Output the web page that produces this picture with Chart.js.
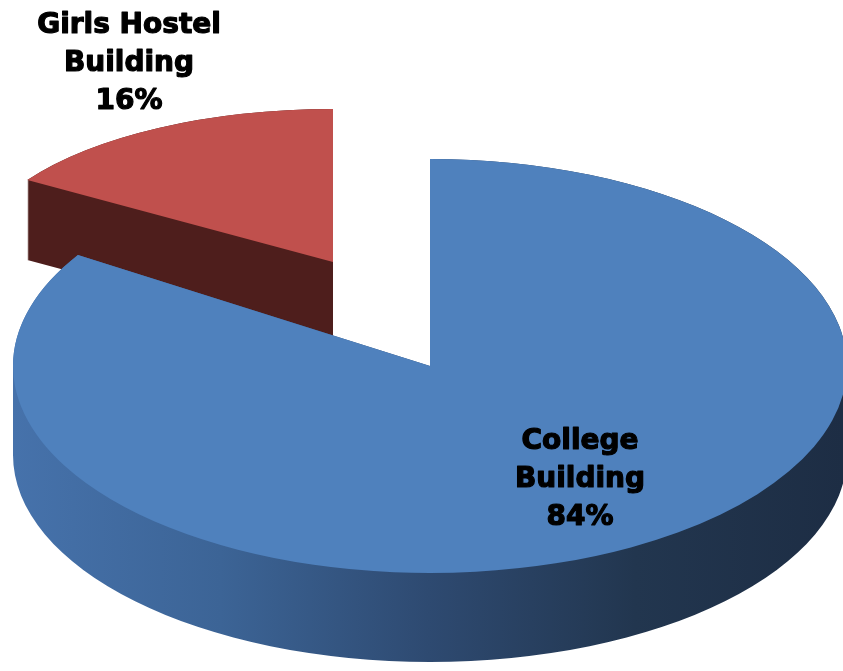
<!DOCTYPE html>
<html>
<head>
<meta charset="utf-8">
<script src="https://cdn.jsdelivr.net/npm/chart.js@4.4.0/dist/chart.umd.min.js"></script>
<style>
  html, body { margin: 0; padding: 0; background: #fff; }
  canvas { display: block; }
</style>
</head>
<body>
<canvas id="myChart" width="843" height="671"></canvas>
<script>
// ### DATA ###
const categories = ['College Building', 'Girls Hostel Building'];
const shares = [84, 16];
const topColors = ['#4F81BD', '#C0504D'];

// tilted look: where each slice's tip lands, its ellipse radii and wall height
const sliceView = [
  { x: 430, y: 366, rx: 417, ry: 207, depth: 89 },
  { x: 333, y: 262, rx: 362, ry: 153, depth: 80 }
];
const labelSpot = [
  { x: 580, y: 442 },
  { x: 129, y: 26 }
];
const lineGap = 38;

// side wall colour (blue one is shaded left to right)
function wallFill(ctx, i) {
  if (i === 1) return '#4e1e1c';
  const g = ctx.createLinearGradient(13, 0, 843, 0);
  g.addColorStop(0, '#4672ab');
  g.addColorStop(0.25, '#3c6496');
  g.addColorStop(0.5, '#2e4a71');
  g.addColorStop(0.75, '#22364f');
  g.addColorStop(1, '#1d2d44');
  return g;
}

// draws the pie squashed into ellipses with a wall underneath
const tiltedPie = {
  id: 'tiltedPie',
  beforeDatasetsDraw(chart) {
    const ctx = chart.ctx;
    const meta = chart.getDatasetMeta(0);

    // back slice first, the big one goes over it
    [1, 0].forEach(function (i) {
      const arc = meta.data[i];
      const v = sliceView[i];
      const R = arc.outerRadius;
      const sx = v.rx / R, sy = v.ry / R;

      ctx.beginPath();
      for (let d = 0; d <= v.depth; d++) {
        ctx.save();
        ctx.translate(v.x, v.y + d);
        ctx.scale(sx, sy);
        ctx.translate(-arc.x, -arc.y);
        ctx.moveTo(arc.x, arc.y);
        ctx.arc(arc.x, arc.y, R, arc.startAngle, arc.endAngle);
        ctx.closePath();
        ctx.restore();
      }
      ctx.fillStyle = wallFill(ctx, i);
      ctx.fill();

      ctx.save();
      ctx.translate(v.x, v.y);
      ctx.scale(sx, sy);
      ctx.translate(-arc.x, -arc.y);
      arc.draw(ctx);
      ctx.restore();
    });
    return false;
  },
  // labels go on after everything else
  afterDraw(chart) {
    const ctx = chart.ctx;
    const data = chart.data.datasets[0].data;
    const total = data.reduce((a, b) => a + b, 0);

    ctx.save();
    ctx.fillStyle = '#000';
    ctx.strokeStyle = '#000';
    ctx.lineWidth = 1.2;
    ctx.lineJoin = 'round';
    ctx.font = 'bold 28px "DejaVu Sans"';
    ctx.textAlign = 'center';
    ctx.textBaseline = 'middle';
    chart.data.labels.forEach(function (name, i) {
      const cut = name.lastIndexOf(' ');
      const lines = [name.slice(0, cut), name.slice(cut + 1), Math.round(data[i] / total * 100) + '%'];
      lines.forEach(function (t, k) {
        ctx.fillText(t, labelSpot[i].x, labelSpot[i].y + k * lineGap);
        ctx.strokeText(t, labelSpot[i].x, labelSpot[i].y + k * lineGap);
      });
    });
    ctx.restore();
  }
};

const ctx = document.getElementById('myChart');

const myChart = new Chart(ctx, {
  type: 'pie',
  data: {
    labels: categories,
    datasets: [{
      data: shares,
      backgroundColor: topColors,
      borderWidth: 0
    }]
  },
  options: {
    responsive: false,
    animation: false,
    events: [],
    layout: { padding: 0 },
    plugins: {
      legend: { display: false },
      tooltip: { enabled: false }
    }
  },
  plugins: [tiltedPie]
});
</script>
</body>
</html>
